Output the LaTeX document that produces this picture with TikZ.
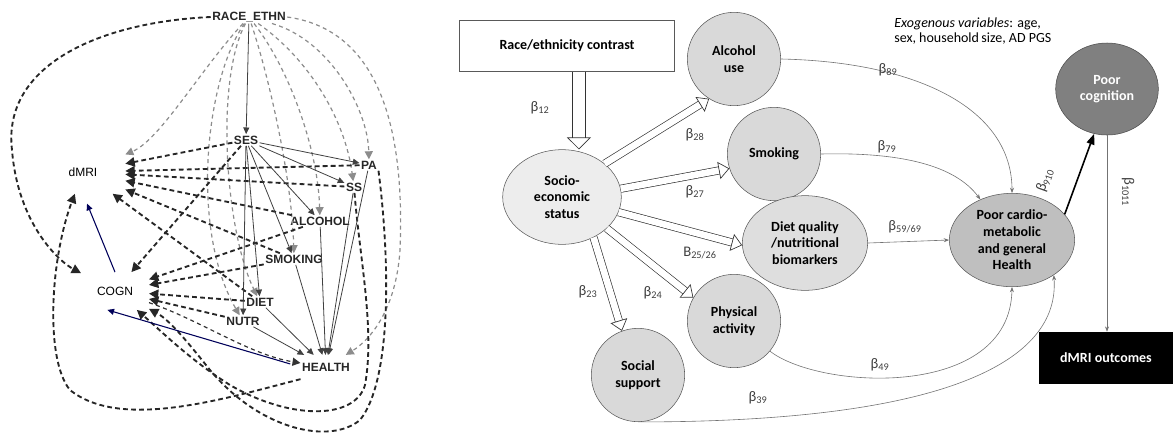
\documentclass[tikz,border=0pt]{standalone}
\usepackage{fontspec}
\setmainfont{Carlito}
\newfontfamily\dagfont{Liberation Sans}
\usetikzlibrary{shapes.geometric, arrows.meta}

\tikzstyle{var} = [font=\dagfont\bfseries\fontsize{9}{10}\selectfont, inner sep=1pt, text=black!85]
\tikzstyle{outc} = [font=\dagfont\fontsize{9}{10}\selectfont, inner sep=1pt]
\tikzstyle{bias} = [draw=black!85, line width=1.4pt, dash pattern=on 3.6pt off 2.4pt, -{Triangle[length=7pt,width=7pt]}]
\tikzstyle{fade} = [draw=black!45, line width=0.9pt, dash pattern=on 3pt off 2.6pt, -{Triangle[length=6pt,width=6pt]}]
\tikzstyle{causal} = [draw=black!75, line width=0.6pt, -{Triangle[length=5pt,width=4.5pt]}]
\tikzstyle{blueline} = [draw=blue!35!black, line width=0.8pt, -{Triangle[length=5pt,width=4.5pt]}]

\tikzstyle{lat} = [circle, draw=black!65, fill=black!15, minimum size=70pt, inner sep=1pt, align=center, font=\bfseries\fontsize{10.5}{12.5}\selectfont]
\tikzstyle{oval} = [ellipse, draw=black!65, inner sep=0pt, align=center, font=\bfseries\fontsize{10.5}{12.5}\selectfont]
\tikzstyle{fat} = [draw=black!80, line width=0.5pt, double=white, double distance=5pt, -{Triangle[open, length=8pt, width=13pt]}]
\tikzstyle{link} = [draw=black!55, line width=0.45pt, -{Stealth[length=4pt, width=3pt]}]
\tikzstyle{beta} = [font=\fontsize{11}{12}\selectfont, text=black!75, inner sep=0pt]

\begin{document}
\begin{tikzpicture}[x=0.75pt, y=-0.75pt]
	\useasboundingbox (0,0) rectangle (1173,437);

	\node (race) [var] at (249,17) {RACE\_ETHN};
	\node (ses) [var] at (246,140) {SES};
	\node (dmri) [outc, outer xsep=20pt, outer ysep=12pt] at (83,172) {dMRI};
	\node (pa) [var] at (369,165) {PA};
	\node (ss) [var] at (354,187) {SS};
	\node (alc) [var] at (320,221) {ALCOHOL};
	\node (smk) [var] at (294,259) {SMOKING};
	\node (diet) [var] at (260,302) {DIET};
	\node (nutr) [var] at (243,321) {NUTR};
	\node (cogn) [outc, outer xsep=11pt, outer ysep=10pt] at (115,291) {COGN};
	\node (hlth) [var, outer ysep=5pt] at (326,367) {HEALTH};

	\draw [fade] (race) .. controls (200,70) and (160,140) .. (dmri);
	\draw [fade] (race) .. controls (205,80) and (190,230) .. (nutr);
	\draw [fade] (race) .. controls (215,80) and (225,230) .. (diet);
	\draw [fade] (race) .. controls (270,80) and (292,180) .. (smk);
	\draw [fade] (race) .. controls (290,70) and (318,150) .. (alc);
	\draw [fade] (race) .. controls (310,60) and (345,120) .. (ss);
	\draw [fade] (race) .. controls (330,40) and (368,110) .. (pa);
	\draw [fade] (race.east) .. controls (380,30) and (405,130) .. (400,250) .. controls (396,310) and (370,340) .. (hlth);
	\draw [bias] (race.west) .. controls (100,22) and (2,65) .. (12,150) .. controls (18,225) and (60,262) .. (cogn);

	\draw [bias] (ses) -- (dmri);
	\draw [bias] (ses) -- (cogn);
	\draw [bias] (pa) -- (dmri);
	\draw [bias] (ss) -- (dmri);
	\draw [bias] (alc) -- (dmri);
	\draw [bias] (smk) -- (dmri);
	\draw [bias] (diet) -- (dmri);
	\draw [bias] (alc) -- (cogn);
	\draw [bias] (smk) -- (cogn);
	\draw [bias] (diet) -- (cogn);
	\draw [bias] (nutr) -- (cogn);
	\draw [bias] (ss) .. controls (360,260) and (375,330) .. (365,385) .. controls (355,420) and (290,420) .. (230,385) .. controls (190,360) and (160,330) .. (cogn);
	\draw [bias] (pa.south east) .. controls (390,260) and (392,380) .. (360,420) .. controls (330,445) and (260,430) .. (210,370) .. controls (190,345) and (170,320) .. (cogn);
	\draw [bias] (hlth.south west) .. controls (220,400) and (120,430) .. (70,390) .. controls (45,360) and (50,260) .. (dmri);
	\draw [fade, draw=black!80] (cogn) .. controls (200,320) and (250,355) .. (hlth);

	\draw [causal] (race) -- (ses);
	\draw [causal] (ses) -- (pa);
	\draw [causal] (ses) -- (ss);
	\draw [causal] (ses) -- (alc);
	\draw [causal] (ses) -- (smk);
	\draw [causal] (ses) -- (diet);
	\draw [causal] (ses) -- (nutr);
	\draw [causal] (pa) -- (hlth);
	\draw [causal] (ss) -- (hlth);
	\draw [causal] (alc) -- (hlth);
	\draw [causal] (smk) -- (hlth);
	\draw [causal] (diet) -- (hlth);
	\draw [causal] (nutr) -- (hlth);
	\draw [blueline, shorten <=8pt] (hlth.west) -- (cogn.-112);
	\draw [blueline, shorten >=8pt] (cogn.north) -- (dmri.south);

	\node (race2) [rectangle, draw=black!65, minimum width=161pt, minimum height=38pt, font=\bfseries\fontsize{10.5}{12.5}\selectfont] at (567,46) {Race/ethnicity contrast};
	\node (ses2) [oval, fill=black!7, minimum width=89pt, minimum height=71pt] at (562,197) {Socio-\\economic\\status};
	\node (alc2) [lat] at (734,59) {Alcohol\\use};
	\node (smk2) [lat] at (774,154) {Smoking};
	\node (diet2) [oval, fill=black!13, minimum width=94pt, minimum height=71pt] at (805,243) {Diet quality\\/nutritional\\biomarkers};
	\node (pa2) [lat] at (734,321) {Physical\\activity};
	\node (sup2) [lat] at (638,375) {Social\\support};
	\node (hlth2) [oval, fill=black!25, minimum width=94pt, minimum height=70pt] at (1012,240) {Poor cardio-\\metabolic\\and general\\Health};
	\node (cog2) [oval, draw=black!70, fill=black!50, text=white, minimum width=77pt, minimum height=69pt] at (1107,89) {Poor\\cognition};
	\node (dmri2) [rectangle, fill=black, text=white, minimum width=100pt, minimum height=39pt, font=\bfseries\fontsize{10.5}{12.5}\selectfont] at (1106,358) {dMRI outcomes};
	\node (exo) [anchor=north west, align=left, inner sep=0pt, font=\fontsize{10.5}{10.7}\selectfont] at (894,18) {\textit{Exogenous variables}: age,\\sex, household\,size, AD PGS};

	\draw [fat, double distance=9pt, -{Triangle[open, length=9pt, width=18pt]}] (race2.295) -- (race2.295 |- ses2.north);
	\draw [fat] (ses2.38) -- (alc2.238);
	\draw [fat] (ses2.8) -- (smk2.198);
	\draw [fat] (ses2.-15) -- (diet2.182);
	\draw [fat] (ses2.-35) -- (pa2.150);
	\draw [fat] (ses2.-52) -- (sup2.110);

	\draw [link] (alc2.east) .. controls (920,62) and (1012,110) .. (hlth2.north);
	\draw [link] (smk2.east) .. controls (900,152) and (955,165) .. (hlth2.128);
	\draw [link] (diet2.east) -- (hlth2.west);
	\draw [link] (pa2.-40) .. controls (820,390) and (1010,400) .. (hlth2.south);
	\draw [link] (sup2.south) .. controls (950,422) and (1060,360) .. (hlth2.-40);
	\draw [draw=black, line width=1.2pt, -{Triangle[length=8pt, width=6pt]}] (hlth2.26) -- (cog2.254);
	\draw [link] (cog2.south) -- (cog2.south |- dmri2.north);

	\node (b12) [beta] at (540,108) {β\textsubscript{12}};
	\node (b28) [beta] at (695,135) {β\textsubscript{28}};
	\node (b27) [beta] at (695,192) {β\textsubscript{27}};
	\node (b2526) [beta] at (700,253) {B\textsubscript{25/26}};
	\node (b24) [beta] at (653,293) {β\textsubscript{24}};
	\node (b23) [beta] at (588,292) {β\textsubscript{23}};
	\node (b89) [beta] at (888,70) {β\textsubscript{89}};
	\node (b79) [beta] at (887,147) {β\textsubscript{79}};
	\node (b5969) [beta] at (905,227) {β\textsubscript{59/69}};
	\node (b49) [beta] at (880,365) {β\textsubscript{49}};
	\node (b39) [beta] at (758,398) {β\textsubscript{39}};
	\node (b910) [beta, rotate=70] at (1045,180) {β\textsubscript{910}};
	\node (b1011) [beta, rotate=-90] at (1128,192) {β\textsubscript{1011}};
\end{tikzpicture}
\end{document}
